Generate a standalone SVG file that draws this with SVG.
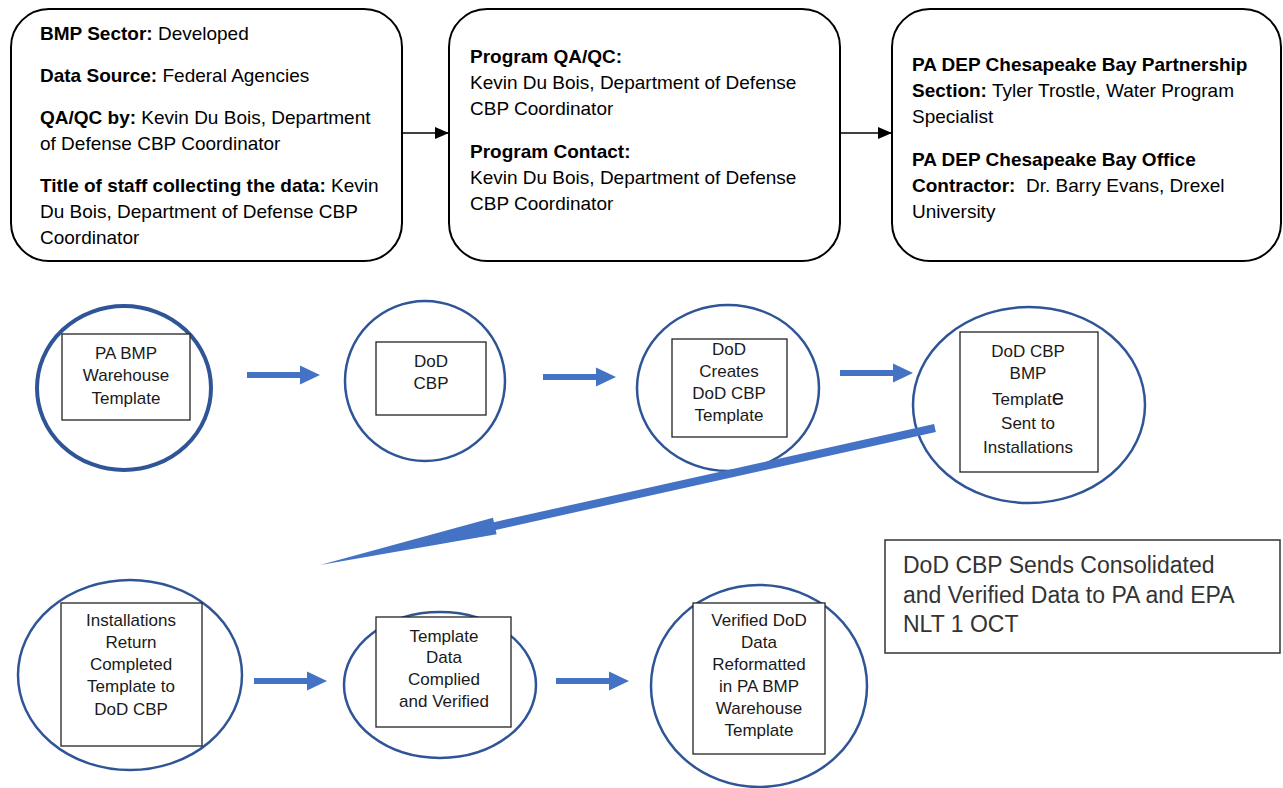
<svg xmlns="http://www.w3.org/2000/svg" xmlns:xlink="http://www.w3.org/1999/xlink" width="1283" height="788" viewBox="0 0 1283 788">
<style>
.box{fill:#fff;stroke:#000;stroke-width:2}
.tx{font-family:"Liberation Sans",Arial,sans-serif;font-size:19px;fill:#000}
.b{font-weight:bold}
.circ{fill:#fff;stroke:#2F5597;stroke-width:2.5}
.thick{stroke-width:4}
.ir{fill:#fff;stroke:#222;stroke-width:1.3}
.ct{font-family:"Liberation Sans",Arial,sans-serif;font-size:17px;fill:#1a1a1a;text-anchor:middle}
.conn{stroke:#000;stroke-width:1.3;fill:none}
.blk{fill:#4472C4}
.note{font-family:"Liberation Sans",Arial,sans-serif;font-size:23px;fill:#333}
</style>
<defs>
<marker id="ah" markerWidth="14" markerHeight="12" refX="14" refY="6" orient="auto" markerUnits="userSpaceOnUse">
<path d="M0,0 L14,6 L0,12 Z" fill="#000"/>
</marker>
<path id="barrow" d="M0,-3 H53 V-9.5 L73,0 L53,9.5 V3 H0 Z"/>
</defs>

<g id="connectors">
<line class="conn" x1="402" y1="133" x2="449" y2="133" marker-end="url(#ah)"/>
<line class="conn" x1="840" y1="133" x2="892" y2="133" marker-end="url(#ah)"/>
<use xlink:href="#barrow" class="blk" x="247" y="375"/>
<use xlink:href="#barrow" class="blk" x="543" y="377"/>
<use xlink:href="#barrow" class="blk" x="840" y="373"/>
<use xlink:href="#barrow" class="blk" x="254" y="681"/>
<use xlink:href="#barrow" class="blk" x="556" y="681"/>
</g>

<g id="box1">
<rect class="box" x="11" y="9" width="391" height="252" rx="38"/>
<text class="tx" x="40" y="40"><tspan class="b">BMP Sector:</tspan> Developed</text>
<text class="tx" x="40" y="82"><tspan class="b">Data Source:</tspan> Federal Agencies</text>
<text class="tx" x="40" y="124"><tspan class="b">QA/QC by:</tspan> Kevin Du Bois, Department</text>
<text class="tx" x="40" y="150">of Defense CBP Coordinator</text>
<text class="tx" x="40" y="192"><tspan class="b">Title of staff collecting the data:</tspan> Kevin</text>
<text class="tx" x="40" y="218">Du Bois, Department of Defense CBP</text>
<text class="tx" x="40" y="244">Coordinator</text>
</g>

<g id="box2">
<rect class="box" x="449" y="9" width="391" height="252" rx="38"/>
<text class="tx b" x="470" y="63">Program QA/QC:</text>
<text class="tx" x="470" y="89">Kevin Du Bois, Department of Defense</text>
<text class="tx" x="470" y="115">CBP Coordinator</text>
<text class="tx b" x="470" y="158">Program Contact:</text>
<text class="tx" x="470" y="184">Kevin Du Bois, Department of Defense</text>
<text class="tx" x="470" y="210">CBP Coordinator</text>
</g>

<g id="box3">
<rect class="box" x="892" y="9" width="389" height="252" rx="38"/>
<text class="tx b" x="912" y="71">PA DEP Chesapeake Bay Partnership</text>
<text class="tx" x="912" y="97"><tspan class="b">Section:</tspan> Tyler Trostle, Water Program</text>
<text class="tx" x="912" y="123">Specialist</text>
<text class="tx b" x="912" y="166">PA DEP Chesapeake Bay Office</text>
<text class="tx" x="912" y="192" xml:space="preserve"><tspan class="b">Contractor:</tspan>  Dr. Barry Evans, Drexel</text>
<text class="tx" x="912" y="218">University</text>
</g>

<g id="n1">
<ellipse class="circ thick" cx="124" cy="388" rx="87" ry="82"/>
<rect class="ir" x="62" y="334" width="128" height="86"/>
<text class="ct" x="126" y="359">PA BMP</text>
<text class="ct" x="126" y="381">Warehouse</text>
<text class="ct" x="126" y="404">Template</text>
</g>

<g id="n2">
<ellipse class="circ" cx="425" cy="381" rx="80" ry="80"/>
<rect class="ir" x="376" y="342" width="110" height="73"/>
<text class="ct" x="431" y="367">DoD</text>
<text class="ct" x="431" y="389">CBP</text>
</g>

<g id="n3">
<ellipse class="circ" cx="728" cy="388" rx="91" ry="83"/>
<rect class="ir" x="672" y="339" width="115" height="98"/>
<text class="ct" x="729" y="355">DoD</text>
<text class="ct" x="729" y="377">Creates</text>
<text class="ct" x="729" y="399">DoD CBP</text>
<text class="ct" x="729" y="421">Template</text>
</g>

<g id="n4">
<ellipse class="circ" cx="1029" cy="405" rx="116" ry="98"/>
<rect class="ir" x="960" y="332" width="138" height="140"/>
<text class="ct" x="1028" y="357">DoD CBP</text>
<text class="ct" x="1028" y="379">BMP</text>
<text class="ct" x="1028" y="405">Templat<tspan font-size="22">e</tspan></text>
<text class="ct" x="1028" y="429">Sent to</text>
<text class="ct" x="1028" y="453">Installations</text>
</g>

<g id="diag-arrow">
<polygon class="blk" transform="translate(935,428) rotate(167.44)" points="0,-4 451,-4 451,-8.5 630,0 451,8.5 451,4 0,4"/>
</g>

<g id="n5">
<ellipse class="circ" cx="130" cy="675" rx="112" ry="95"/>
<rect class="ir" x="61" y="603" width="141" height="143"/>
<text class="ct" x="131" y="626">Installations</text>
<text class="ct" x="131" y="648">Return</text>
<text class="ct" x="131" y="670">Completed</text>
<text class="ct" x="131" y="692">Template to</text>
<text class="ct" x="131" y="715">DoD CBP</text>
</g>

<g id="n6">
<ellipse class="circ" cx="440" cy="685" rx="96" ry="73"/>
<rect class="ir" x="376" y="617" width="135" height="110"/>
<text class="ct" x="444" y="642">Template</text>
<text class="ct" x="444" y="663">Data</text>
<text class="ct" x="444" y="685">Complied</text>
<text class="ct" x="444" y="707">and Verified</text>
</g>

<g id="n7">
<ellipse class="circ" cx="759" cy="686" rx="108" ry="101"/>
<rect class="ir" x="693" y="603" width="132" height="151"/>
<text class="ct" x="759" y="626">Verified DoD</text>
<text class="ct" x="759" y="648">Data</text>
<text class="ct" x="759" y="670">Reformatted</text>
<text class="ct" x="759" y="692">in PA BMP</text>
<text class="ct" x="759" y="714">Warehouse</text>
<text class="ct" x="759" y="736">Template</text>
</g>

<g id="note">
<rect x="885" y="540" width="395" height="113" fill="#fff" stroke="#333" stroke-width="1.5"/>
<text class="note" x="903" y="573">DoD CBP Sends Consolidated</text>
<text class="note" x="903" y="603">and Verified Data to PA and EPA</text>
<text class="note" x="903" y="632">NLT 1 OCT</text>
</g>
</svg>
